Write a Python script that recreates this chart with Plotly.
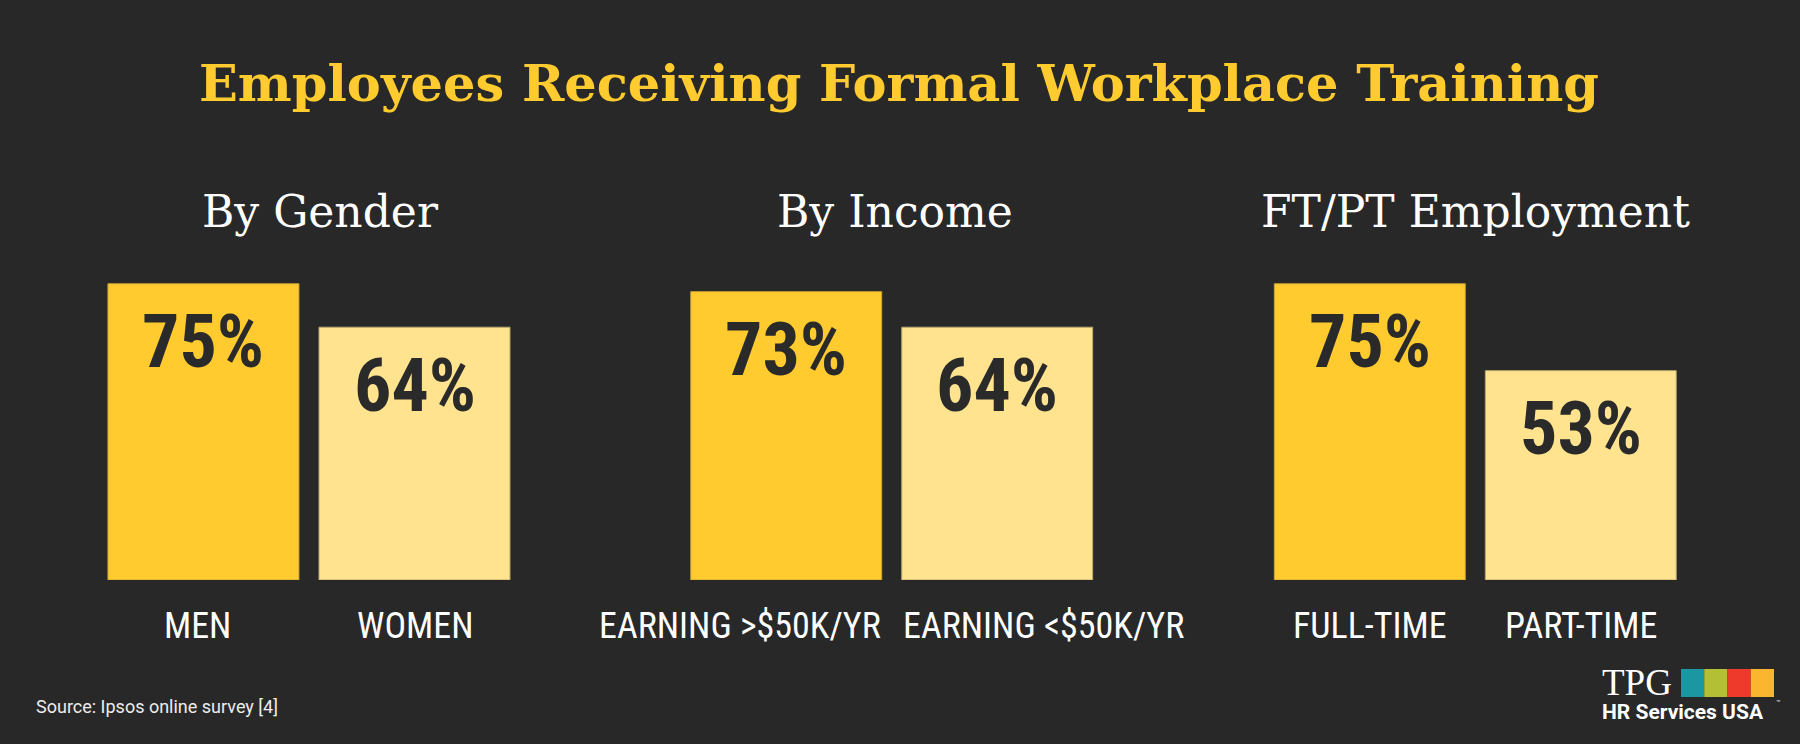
import plotly.graph_objects as go

# ---------------- data ----------------
title_text = "Employees Receiving Formal Workplace Training"
group_titles = ["By Gender", "By Income", "FT/PT Employment"]
gender_cats = ["MEN", "WOMEN"]
gender_vals = [75, 64]
income_cats = ["EARNING >$50K/YR", "EARNING <$50K/YR"]
income_vals = [73, 64]
employment_cats = ["FULL-TIME", "PART-TIME"]
employment_vals = [75, 53]
source_text = "Source: Ipsos online survey [4]"

categories = [gender_cats, income_cats, employment_cats]
values = [gender_vals, income_vals, employment_vals]

# ---------------- style ----------------
BG = "#282828"
bar_colors = ["#FFCB2F", "#FFE38E"]
bar_lines = ["#C9A232", "#B8A66C"]
W, H = 1800, 744
domains = [[0.0544, 0.2889], [0.3782, 0.6126], [0.7024, 0.9368]]
ydom = [(H - 580) / H, (H - 185) / H]
label_xshift = [[-6, 0], [-46, 46], [0, 0]]
title_centers_px = [320, 895, 1475]
COND = "Roboto Condensed, Liberation Sans Narrow, DejaVu Sans Condensed, Roboto, sans-serif"
SLAB = "Roboto Slab, DejaVu Serif, serif"

fig = go.Figure()
annotations = []
for i, (cats, vals) in enumerate(zip(categories, values)):
    sfx = "" if i == 0 else str(i + 1)
    fig.add_trace(go.Bar(
        x=cats, y=vals,
        xaxis="x" + sfx, yaxis="y" + sfx,
        marker=dict(color=bar_colors, line=dict(color=bar_lines, width=1)),
        hoverinfo="skip", showlegend=False,
    ))
    for j, (c, v) in enumerate(zip(cats, vals)):
        annotations.append(dict(
            x=c, y=v, xref="x" + sfx, yref="y" + sfx,
            text=f"<b>{v}%</b>", showarrow=False,
            yanchor="middle", yshift=-58,
            font=dict(family=COND, size=74, color="#2A2A2A"),
        ))
        annotations.append(dict(
            x=c, y=0, xref="x" + sfx, yref="y" + sfx,
            text=c, showarrow=False,
            xanchor="center", yanchor="middle", yshift=-46,
            xshift=label_xshift[i][j],
            font=dict(family=COND, size=36, color="#FFFFFF"),
        ))
    fig.update_layout(**{
        "xaxis" + sfx: dict(
            domain=domains[i], anchor="y" + sfx, type="category",
            range=[-0.5, 1.5], showgrid=False, zeroline=False, showline=False,
            ticks="", showticklabels=False, fixedrange=True,
        ),
        "yaxis" + sfx: dict(
            domain=ydom, anchor="x" + sfx, range=[0, 100],
            showgrid=False, zeroline=False, showline=False,
            showticklabels=False, ticks="", fixedrange=True,
        ),
    })
    annotations.append(dict(
        x=title_centers_px[i] / W, y=1 - 212 / H,
        xref="paper", yref="paper", text=group_titles[i], showarrow=False,
        xanchor="center", yanchor="middle",
        font=dict(family=SLAB, size=44, color="#FFFFFF"),
    ))

# main title
annotations.append(dict(
    x=899 / W, y=1 - 83 / H, xref="paper", yref="paper",
    text=f"<b>{title_text}</b>", showarrow=False,
    xanchor="center", yanchor="middle",
    font=dict(family=SLAB, size=51, color="#FFCB2F"),
))
# source
annotations.append(dict(
    x=34 / W, y=1 - 706 / H, xref="paper", yref="paper",
    text=source_text, showarrow=False, xanchor="left", yanchor="middle",
    font=dict(family="Roboto, sans-serif", size=18, color="#EDEDED"),
))
# logo text
annotations.append(dict(
    x=1600 / W, y=1 - 682 / H, xref="paper", yref="paper",
    text="TPG", showarrow=False, xanchor="left", yanchor="middle",
    font=dict(family="Liberation Serif, serif", size=37, color="#FFFFFF"),
))
annotations.append(dict(
    x=1600 / W, y=1 - 712 / H, xref="paper", yref="paper",
    text="<b>HR Services USA</b>", showarrow=False, xanchor="left", yanchor="middle",
    font=dict(family="Roboto, sans-serif", size=21, color="#FFFFFF"),
))
annotations.append(dict(
    x=1774 / W, y=1 - 703 / H, xref="paper", yref="paper",
    text="™", showarrow=False, xanchor="left", yanchor="middle",
    font=dict(family="Roboto, sans-serif", size=7, color="#FFFFFF"),
))

logo_colors = ["#1A97A0", "#B3C035", "#EE3A2A", "#FBB52F"]
shapes = []
x0 = 1681
sq = (1774 - 1681) / 4
for k, col in enumerate(logo_colors):
    shapes.append(dict(
        type="rect", xref="paper", yref="paper",
        x0=(x0 + k * sq) / W, x1=(x0 + (k + 1) * sq) / W,
        y0=1 - 697 / H, y1=1 - 669 / H,
        fillcolor=col, line=dict(width=0),
    ))

fig.update_layout(
    width=W, height=H, autosize=False,
    margin=dict(l=0, r=0, t=0, b=0),
    paper_bgcolor=BG, plot_bgcolor=BG,
    bargap=0.095,
    annotations=annotations, shapes=shapes,
    showlegend=False,
)

post = ("document.body.style.margin='0';document.body.style.padding='0';"
        "document.body.style.overflow='hidden';"
        "document.body.style.background='#282828';")
fig.write_html("out.html", config={"displayModeBar": False}, post_script=post)
